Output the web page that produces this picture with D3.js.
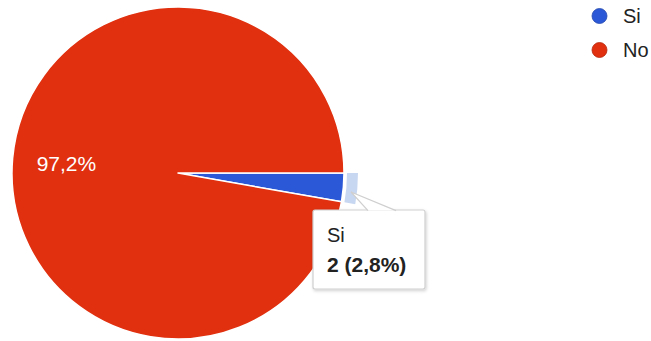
<!DOCTYPE html>
<html>
<head>
<meta charset="utf-8">
<script src="https://cdn.jsdelivr.net/npm/d3@7"></script>
<style>
  html, body { margin: 0; padding: 0; background: #fff; }
  svg { display: block; font-family: Arial, "Liberation Sans", sans-serif; }
</style>
</head>
<body>
<svg id="chart" width="651" height="341"></svg>
<script>
// Survey answers
const categories = ["Si", "No"];
const counts = [2, 70];
const colors = ["#2b58d6", "#e0300f"];
const highlighted = "Si";

const width = 651, height = 341;
const cx = 178, cy = 173, radius = 166;

const svg = d3.select("#chart");

const total = d3.sum(counts);
const data = categories.map((c, i) => ({ name: c, value: counts[i], color: colors[i] }));
const fmtPct = v => (Math.round(v * 1000) / 10).toFixed(1).replace(".", ",") + "%";

const defs = svg.append("defs");
const shadow = defs.append("filter").attr("id", "shadow")
  .attr("x", "-10%").attr("y", "-10%").attr("width", "130%").attr("height", "130%");
shadow.append("feDropShadow").attr("dx", 1).attr("dy", 1.5).attr("stdDeviation", 1.5)
  .attr("flood-color", "#000").attr("flood-opacity", 0.18);

// Slices start at 3 o'clock and run clockwise
const pie = d3.pie().value(d => d.value).sort(null)
  .startAngle(Math.PI / 2).endAngle(Math.PI / 2 + 2 * Math.PI);
const arcs = pie(data);

const arc = d3.arc().innerRadius(0).outerRadius(radius);
const g = svg.append("g").attr("transform", `translate(${cx},${cy})`);

g.selectAll("path.slice")
  .data(arcs)
  .join("path")
  .attr("class", "slice")
  .attr("d", arc)
  .attr("fill", d => d.data.color)
  .attr("stroke", "#fff")
  .attr("stroke-width", 1.5)
  .attr("stroke-linejoin", "round");

// Hover ring around the highlighted slice
const ringArc = d3.arc().innerRadius(radius + 3).outerRadius(radius + 14);
const hot = arcs.find(a => a.data.name === highlighted);
g.append("path")
  .attr("d", ringArc(hot))
  .attr("fill", "#c8d7f1");

// Percentage label inside the large slice
const labelArc = d3.arc().innerRadius(112).outerRadius(112);
arcs.filter(a => a.value / total > 0.05).forEach(a => {
  const [lx, ly] = labelArc.centroid(a);
  g.append("text")
    .attr("x", lx).attr("y", ly)
    .attr("text-anchor", "middle")
    .attr("dominant-baseline", "central")
    .attr("fill", "#fff")
    .attr("font-size", 21)
    .text(fmtPct(a.value / total));
});

// Tooltip for the highlighted slice
const tip = { x: 313, y: 210, w: 112, h: 79 };
const tipG = svg.append("g");
tipG.append("rect")
  .attr("x", tip.x).attr("y", tip.y).attr("width", tip.w).attr("height", tip.h)
  .attr("rx", 2)
  .attr("fill", "#fff")
  .attr("stroke", "#cfcfcf")
  .attr("stroke-width", 1.2)
  .attr("filter", "url(#shadow)");
// callout pointing to the slice
const apex = [cx + radius + 7, cy + 19];
tipG.append("path")
  .attr("d", `M${tip.x + 55},${tip.y + 0.6} L${apex[0]},${apex[1]} L${tip.x + 83},${tip.y + 0.6}`)
  .attr("fill", "#fff")
  .attr("stroke", "#cfcfcf")
  .attr("stroke-width", 1.2);
tipG.append("text")
  .attr("x", tip.x + 14).attr("y", tip.y + 32)
  .attr("font-size", 20)
  .attr("fill", "#222")
  .text(hot.data.name);
tipG.append("text")
  .attr("x", tip.x + 14).attr("y", tip.y + 62)
  .attr("font-size", 21)
  .attr("font-weight", "bold")
  .attr("fill", "#222")
  .text(`${hot.data.value} (${fmtPct(hot.data.value / total)})`);

// Legend
const legend = svg.append("g").attr("transform", "translate(599.5,16)");
const item = legend.selectAll("g")
  .data(data)
  .join("g")
  .attr("transform", (d, i) => `translate(0,${i * 34})`);
item.append("circle")
  .attr("r", 7.5)
  .attr("fill", d => d.color)
  .attr("stroke", d => d3.color(d.color).darker(0.6))
  .attr("stroke-width", 0.8);
item.append("text")
  .attr("x", 23.5)
  .attr("dy", "0.36em")
  .attr("font-size", 20)
  .attr("fill", "#222")
  .text(d => d.name);
</script>
</body>
</html>
